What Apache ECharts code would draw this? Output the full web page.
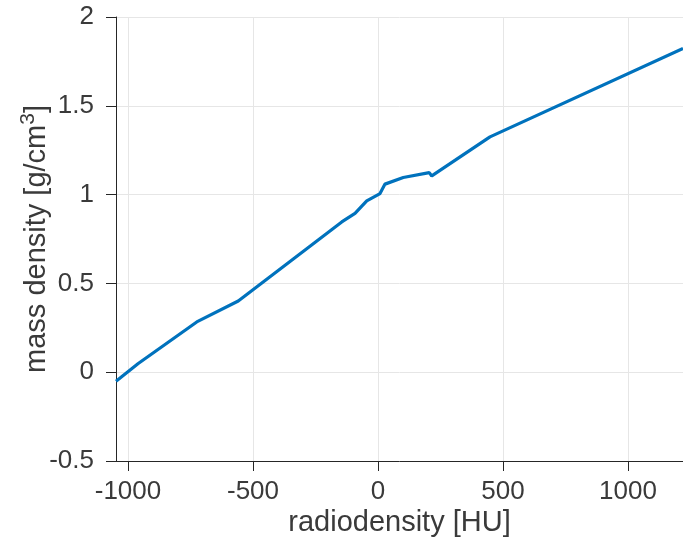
<!DOCTYPE html>
<html>
<head>
<meta charset="utf-8">
<script src="https://cdn.jsdelivr.net/npm/echarts@6/dist/echarts.min.js"></script>
<style>
html,body{margin:0;padding:0;background:#fff;}
#chart{width:683px;height:540px;}
</style>
</head>
<body>
<div id="chart"></div>
<script>
// radiodensity [HU]
const hu = [-1048, -959, -725, -559, -145, -92, -45, 8, 28, 101, 205, 215, 448, 1220];
// mass density [g/cm^3]
const density = [-0.051, 0.049, 0.283, 0.401, 0.846, 0.894, 0.965, 1.006, 1.059, 1.096, 1.124, 1.105, 1.325, 1.823];
const xTicks = [-1000, -500, 0, 500, 1000];
const yTicks = [-0.5, 0, 0.5, 1, 1.5, 2];

const axisColor = '#262626';
const labelColor = '#3a3a3a';
const font = 'Liberation Sans, Arial, Helvetica, sans-serif';

const chart = echarts.init(document.getElementById('chart'), null, {renderer: 'canvas'});
chart.setOption({
  animation: false,
  backgroundColor: '#ffffff',
  grid: {left: 116, right: 0, top: 17, bottom: 79, containLabel: false, outerBoundsMode: 'none'},
  xAxis: {
    type: 'value',
    min: -1048, max: 1220,
    splitNumber: 5,
    name: 'radiodensity [HU]',
    nameLocation: 'middle',
    nameGap: 47,
    nameMoveOverlap: false,
    nameTextStyle: {fontFamily: font, fontSize: 29, color: labelColor},
    axisLine: {show: true, onZero: false, lineStyle: {color: axisColor, width: 1}},
    axisTick: {show: true, inside: false, length: 10, customValues: xTicks, lineStyle: {color: axisColor}},
    axisLabel: {customValues: xTicks, formatter: v => String(v), fontFamily: font, fontSize: 26, color: labelColor, margin: 18},
    splitLine: {show: true, lineStyle: {color: '#e6e6e6', width: 1}}
  },
  yAxis: {
    type: 'value',
    min: -0.5, max: 2, interval: 0.5,
    name: 'mass density [g/cm{sup|3}]',
    nameLocation: 'middle',
    nameGap: 61,
    nameRotate: 90,
    nameMoveOverlap: false,
    nameTextStyle: {fontFamily: font, fontSize: 29, color: labelColor,
      rich: {sup: {fontFamily: font, fontSize: 21, color: labelColor, verticalAlign: 'top', padding: [0,0,16,0]}}},
    axisLine: {show: true, onZero: false, lineStyle: {color: axisColor, width: 1}},
    axisTick: {show: true, inside: false, length: 10, lineStyle: {color: axisColor}},
    axisLabel: {formatter: v => String(v), fontFamily: font, fontSize: 26, color: labelColor, margin: 22},
    splitLine: {show: true, lineStyle: {color: '#e6e6e6', width: 1}}
  },
  series: [{
    type: 'line',
    data: hu.map((x, i) => [x, density[i]]),
    showSymbol: false,
    symbol: 'none',
    clip: true,
    lineStyle: {color: '#0072BD', width: 3.2},
    z: 5
  }]
});
</script>
</body>
</html>
